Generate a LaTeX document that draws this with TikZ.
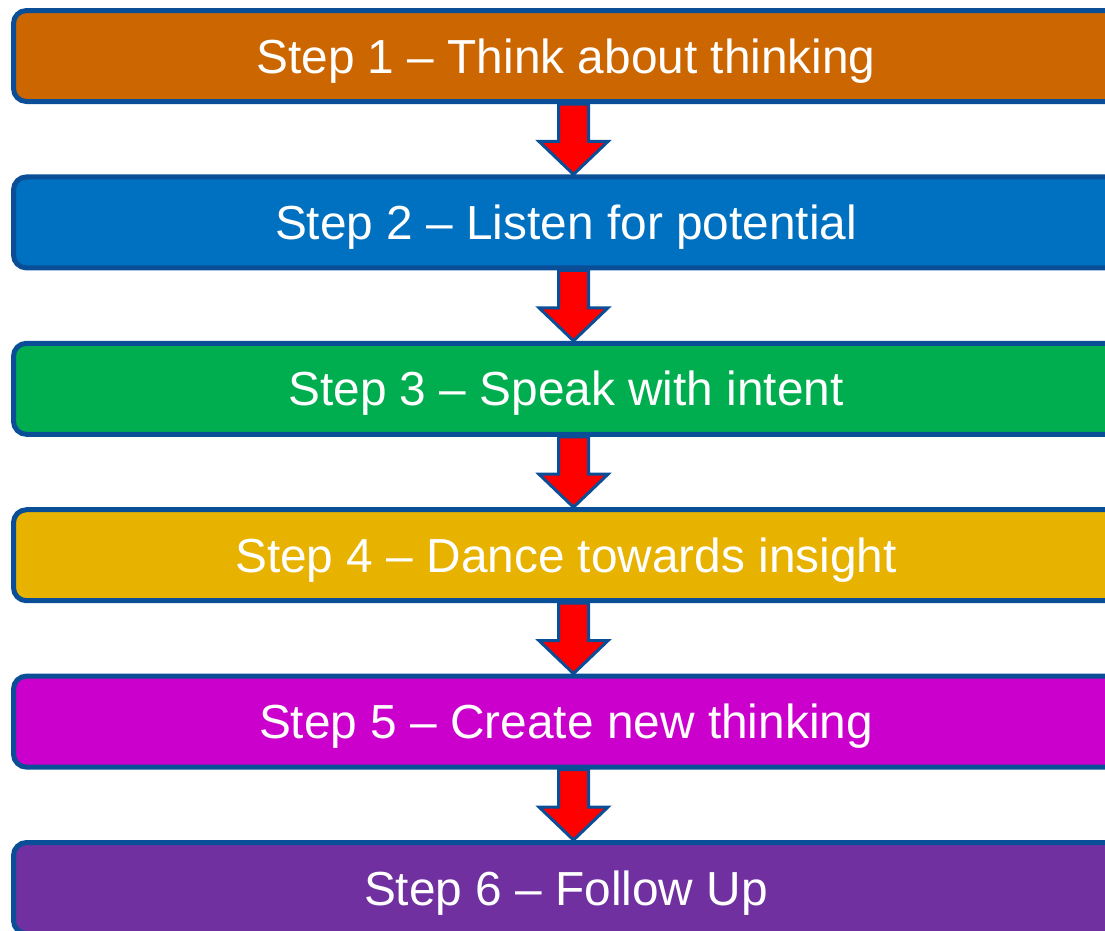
\documentclass[tikz,border=0pt]{standalone}
\usepackage{fontspec}
\setmainfont{Liberation Sans}
\usetikzlibrary{calc}

\definecolor{edgeblue}{HTML}{0A4E98}
\definecolor{arrowred}{HTML}{FF0000}
\definecolor{stepA}{HTML}{CC6600}
\definecolor{stepB}{HTML}{0070C0}
\definecolor{stepC}{HTML}{00AE4F}
\definecolor{stepD}{HTML}{E8B200}
\definecolor{stepE}{HTML}{CC00CC}
\definecolor{stepF}{HTML}{7030A0}

\pgfdeclarelayer{arrowlayer}
\pgfsetlayers{arrowlayer,main}

\begin{document}
\begin{tikzpicture}[x=1pt,y=-1pt,
  stepbox/.style={draw=edgeblue, line width=5pt, rounded corners=13pt,
    minimum width=1105pt, minimum height=91pt, inner sep=0pt,
    text=white, font=\fontsize{47.8}{57}\selectfont,
    text height=34pt, text depth=0pt},
  flowarrow/.style={draw=edgeblue, fill=arrowred, line width=3pt, line join=miter}]
\useasboundingbox (0,0) rectangle (1105,930);

% the six steps, one below the other
\node[stepbox, fill=stepA] (s1) at (566,56)    {Step 1 – Think about thinking};
\node[stepbox, fill=stepB] (s2) at (566,222.4) {Step 2 – Listen for potential};
\node[stepbox, fill=stepC] (s3) at (566,388.8) {Step 3 – Speak with intent};
\node[stepbox, fill=stepD] (s4) at (566,555.2) {Step 4 – Dance towards insight};
\node[stepbox, fill=stepE] (s5) at (566,721.6) {Step 5 – Create new thinking};
\node[stepbox, fill=stepF] (s6) at (566,888)   {Step 6 – Follow Up};

% block arrows between consecutive steps, tucked under the boxes
\begin{pgfonlayer}{arrowlayer}
\foreach \a/\b in {s1/s2, s2/s3, s3/s4, s4/s5, s5/s6}{
  \draw[flowarrow]
    ($(\a.south)+(-7.5,0)$) --
    ($(\b.north)+(-7.5,-33)$) --
    ($(\b.north)+(-27,-33)$) --
    ($(\b.north)+(7.5,0)$) --
    ($(\b.north)+(42,-33)$) --
    ($(\b.north)+(22.5,-33)$) --
    ($(\a.south)+(22.5,0)$) -- cycle;
}
\end{pgfonlayer}
\end{tikzpicture}
\end{document}
